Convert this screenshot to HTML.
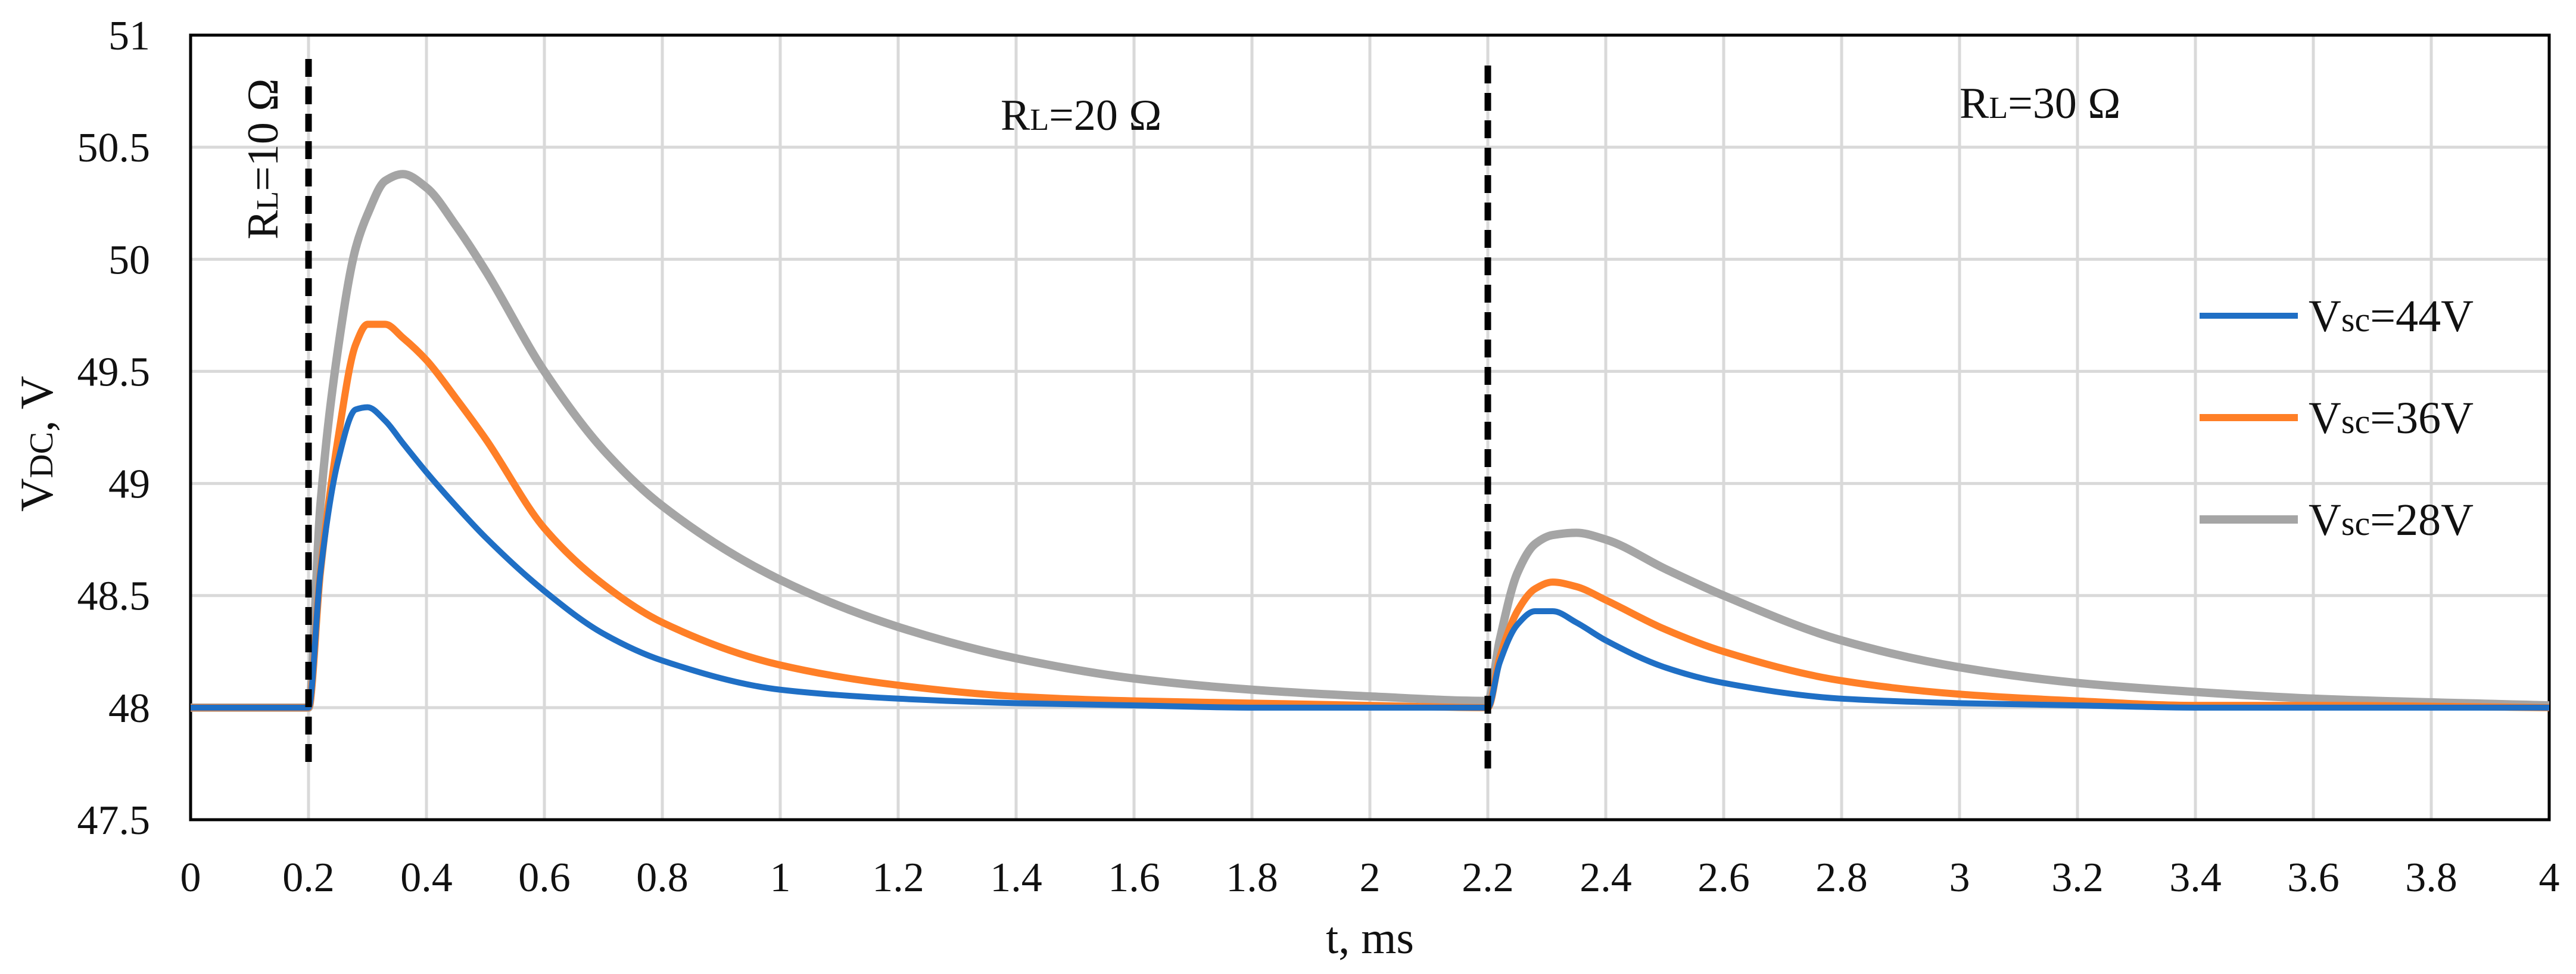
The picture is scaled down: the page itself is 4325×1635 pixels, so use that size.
<!DOCTYPE html>
<html><head><meta charset="utf-8"><style>
html,body{margin:0;padding:0;background:#fff}
svg{display:block}
text{font-family:"Liberation Serif",serif;fill:#111}
</style></head><body>
<svg id="chart" width="4325" height="1635" viewBox="0 0 4325 1635" xmlns="http://www.w3.org/2000/svg"></svg>
<script>
const times=[0,0.2,0.22,0.25,0.28,0.3,0.33,0.36,0.4,0.45,0.5,0.6,0.7,0.8,1.0,1.2,1.4,1.6,1.8,2.0,2.2,2.22,2.25,2.28,2.31,2.35,2.4,2.5,2.6,2.8,3.0,3.2,3.4,3.6,4.0];
const vsc44=[48,48,48.6,49.1,49.33,49.34,49.28,49.18,49.05,48.9,48.76,48.52,48.33,48.21,48.08,48.04,48.02,48.01,48.0,48.0,48.0,48.2,48.37,48.43,48.43,48.38,48.3,48.18,48.11,48.04,48.02,48.01,48.0,48.0,48.0];
const vsc36=[48,48,48.6,49.2,49.62,49.71,49.71,49.65,49.55,49.38,49.2,48.8,48.55,48.38,48.19,48.1,48.05,48.03,48.02,48.01,48.0,48.22,48.43,48.53,48.56,48.54,48.48,48.35,48.25,48.12,48.06,48.03,48.01,48.01,48.0];
const vsc28=[48,48,48.9,49.6,50.05,50.2,50.35,50.38,50.32,50.15,49.95,49.5,49.15,48.9,48.57,48.36,48.22,48.13,48.08,48.05,48.03,48.3,48.6,48.73,48.77,48.78,48.75,48.62,48.5,48.3,48.18,48.11,48.07,48.04,48.01];
const xTicks=["0","0.2","0.4","0.6","0.8","1","1.2","1.4","1.6","1.8","2","2.2","2.4","2.6","2.8","3","3.2","3.4","3.6","3.8","4"];
const yTicks=["47.5","48","48.5","49","49.5","50","50.5","51"];
const seriesNames=["Vsc=44V","Vsc=36V","Vsc=28V"];
const boundaries=[0.2,2.2];

const L=320,R=4280,T=59,B=1376,X0=0,X1=4,Y0=47.5,Y1=51;
const sx=v=>L+(v-X0)/(X1-X0)*(R-L);
const sy=v=>B-(v-Y0)/(Y1-Y0)*(B-T);
const svg=document.getElementById('chart');
const NS='http://www.w3.org/2000/svg';
function mk(tag,attrs,parent){const e=document.createElementNS(NS,tag);for(const k in attrs)e.setAttribute(k,attrs[k]);(parent||svg).appendChild(e);return e;}

xTicks.forEach(t=>{const v=parseFloat(t);
 const g=mk('line',{x1:sx(v),x2:sx(v),y1:T,y2:B,stroke:'#d9d9d9','stroke-width':5});
 
 
 const tx=mk('text',{x:sx(v),y:1496,'text-anchor':'middle','font-size':70});
 tx.textContent=t;
 
 
});
yTicks.forEach(t=>{const v=parseFloat(t);
 const g=mk('line',{x1:L,x2:R,y1:sy(v),y2:sy(v),stroke:'#d9d9d9','stroke-width':5});
 
 
 const tx=mk('text',{x:252,y:sy(v)+24,'text-anchor':'end','font-size':70});
 tx.textContent=t;
 
 
});
const frame=mk('rect',{x:L,y:T,width:R-L,height:B-T,fill:'none',stroke:'#000','stroke-width':5});



function monotone(xs,ys){
 const n=xs.length,h=[],dl=[],m=new Array(n);
 for(let i=0;i<n-1;i++){h[i]=xs[i+1]-xs[i];dl[i]=(ys[i+1]-ys[i])/h[i];}
 m[0]=dl[0];m[n-1]=dl[n-2];
 for(let i=1;i<n-1;i++){
  if(dl[i-1]*dl[i]<=0)m[i]=0;
  else{const w1=2*h[i]+h[i-1],w2=h[i]+2*h[i-1];m[i]=(w1+w2)/(w1/dl[i-1]+w2/dl[i]);}
 }
 let d='M'+sx(xs[0])+','+sy(ys[0]);
 for(let i=0;i<n-1;i++){
  const c1x=xs[i]+h[i]/3,c1y=ys[i]+m[i]*h[i]/3,c2x=xs[i+1]-h[i]/3,c2y=ys[i+1]-m[i+1]*h[i]/3;
  d+=' C'+sx(c1x)+','+sy(c1y)+' '+sx(c2x)+','+sy(c2y)+' '+sx(xs[i+1])+','+sy(ys[i+1]);
 }
 return d;
}
const cols=['#1f6fc5','#ff7f27','#a5a5a5'];
const widths=[10,12,14];
const names=['series-vsc44','series-vsc36','series-vsc28'];
[vsc28,vsc36,vsc44].forEach((s,k)=>{const i=2-k;
 const p=mk('path',{d:monotone(times,s),fill:'none',stroke:cols[i],'stroke-width':widths[i],'stroke-linejoin':'round'});
 
 
});
boundaries.forEach((b,i)=>{
 const l=mk('line',{x1:sx(b),x2:sx(b),y1:i?110:99,y2:i?1303:1283,stroke:'#000','stroke-width':11,'stroke-dasharray':'30 16'});
 
 
});
function ann(x,y,rot,name,txt){
 const t=mk('text',{x:x,y:y,'font-size':74,transform:rot?`rotate(-90 ${x} ${y})`:''});
 t.innerHTML='R<tspan font-size="52">L</tspan>='+txt;
 
 
 return t;
}
ann(466,402,true,'rl-10-label','10 Ω');
ann(1680,218,false,'rl-20-label','20 Ω');
ann(3290,198,false,'rl-30-label','30 Ω');
const ly=[530,701,872];
seriesNames.forEach((n,i)=>{
 const l=mk('line',{x1:3693,x2:3858,y1:ly[i],y2:ly[i],stroke:cols[i],'stroke-width':widths[i]});
 
 
 const t=mk('text',{x:3876,y:ly[i]+26,'font-size':76});
 t.innerHTML='V<tspan font-size="58">sc</tspan>'+n.slice(3);
 
 
});
const xt=mk('text',{x:2300,y:1600,'text-anchor':'middle','font-size':76});
xt.textContent='t, ms';


const yt=mk('text',{x:88,y:745,'text-anchor':'middle','font-size':78,transform:'rotate(-90 88 745)'});
yt.innerHTML='V<tspan font-size="56">DC</tspan>, V';


</script>
</body></html>
